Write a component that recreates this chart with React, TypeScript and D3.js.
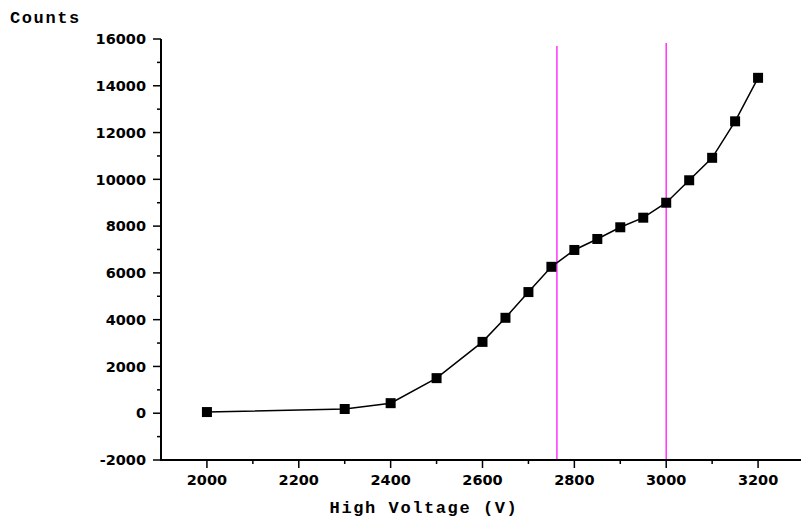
import React from 'react';
import * as d3 from 'd3';

// high voltage plateau measurement
const voltages = [2000, 2300, 2400, 2500, 2600, 2650, 2700, 2750, 2800, 2850, 2900, 2950, 3000, 3050, 3100, 3150, 3200];
const counts = [50, 180, 430, 1500, 3050, 4080, 5180, 6260, 6980, 7450, 7950, 8360, 9000, 9960, 10920, 12480, 14340];
const markerLines = [2762, 3000];
const markerTops = [15700, 15830];
const xTicks = [2000, 2200, 2400, 2600, 2800, 3000, 3200];
const yTicks = [-2000, 0, 2000, 4000, 6000, 8000, 10000, 12000, 14000, 16000];

const W = 801;
const H = 519;

export default function App() {
  const x = d3.scaleLinear().domain([1900, 3300]).range([161, 804]);
  const y = d3.scaleLinear().domain([-2000, 16000]).range([460, 39]);

  const line = d3.line<number>()
    .x((d, i) => x(voltages[i]))
    .y(d => y(d));

  const xMinor = d3.range(2100, 3300, 200);
  const yMinor = d3.range(-1000, 16000, 2000);
  const tickFont = { fontFamily: 'DejaVu Sans, sans-serif', fontSize: '14.5px', fontWeight: 'bold' as const };
  const titleFont = { fontFamily: 'Liberation Mono, monospace', fontSize: '17px', fontWeight: 'bold' as const, letterSpacing: '1.6px' };

  return (
    <svg width={W} height={H} style={{ position: 'absolute', left: 0, top: 0, background: '#fff' }}>
      {/* marker lines */}
      {markerLines.map((v, i) => (
        <line key={v} x1={x(v)} x2={x(v)} y1={y(markerTops[i])} y2={y(-2000)} stroke="#ff33ff" strokeWidth={1.5} />
      ))}

      {/* axes */}
      <line x1={x(1900)} x2={x(1900)} y1={y(16000)} y2={y(-2000) + 1} stroke="#000" strokeWidth={2} />
      <line x1={x(1900)} x2={W} y1={y(-2000)} y2={y(-2000)} stroke="#000" strokeWidth={2} />

      {yTicks.map(t => (
        <g key={t}>
          <line x1={x(1900) - 8} x2={x(1900)} y1={y(t)} y2={y(t)} stroke="#000" strokeWidth={1.5} />
          <text x={x(1900) - 15} y={y(t)} dy="0.36em" textAnchor="end" style={tickFont}>{t}</text>
        </g>
      ))}
      {yMinor.map(t => (
        <line key={t} x1={x(1900) - 4} x2={x(1900)} y1={y(t)} y2={y(t)} stroke="#000" strokeWidth={1.5} />
      ))}

      {xTicks.map(t => (
        <g key={t}>
          <line x1={x(t)} x2={x(t)} y1={y(-2000)} y2={y(-2000) + 8} stroke="#000" strokeWidth={1.5} />
          <text x={x(t)} y={485} textAnchor="middle" style={tickFont}>{t}</text>
        </g>
      ))}
      {xMinor.map(t => (
        <line key={t} x1={x(t)} x2={x(t)} y1={y(-2000)} y2={y(-2000) + 4} stroke="#000" strokeWidth={1.5} />
      ))}

      {/* data */}
      <path d={line(counts) || ''} fill="none" stroke="#000" strokeWidth={1.5} />
      {counts.map((c, i) => (
        <rect key={i} x={x(voltages[i]) - 5} y={y(c) - 5} width={10} height={10} fill="#000" />
      ))}

      <text x={10} y={23} style={titleFont}>Counts</text>
      <text x={424} y={513} textAnchor="middle" style={titleFont}>High Voltage (V)</text>
    </svg>
  );
}
